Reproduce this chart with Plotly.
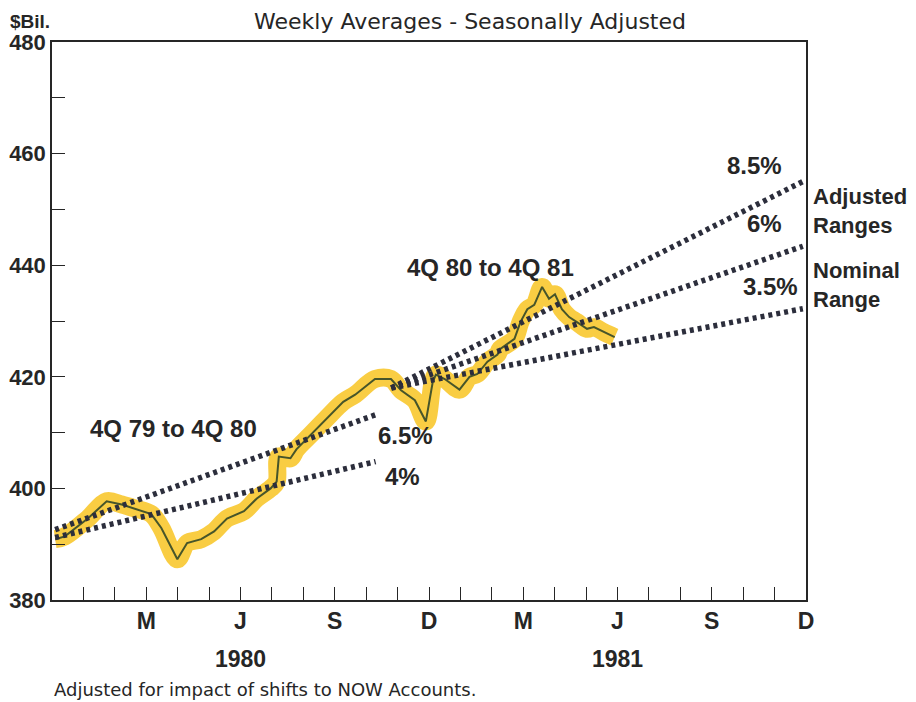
import plotly.graph_objects as go

# month index: 0 = Dec 1979, 12 = Dec 1980, 24 = Dec 1981
week_x = [0.1, 0.41, 1.14, 1.74, 2.22, 2.63, 3.16, 3.48, 3.99, 4.30, 4.75, 5.16, 5.57,
          6.11, 6.52, 6.96, 7.15, 7.22, 7.59, 7.78, 8.23, 8.73, 9.27, 9.65, 10.28, 10.79,
          11.11, 11.55, 11.90, 12.12, 12.22, 12.50, 12.97, 13.29, 13.54, 13.86, 14.18,
          14.27, 14.72, 14.91, 15.13, 15.35, 15.60, 15.82, 16.01, 16.23, 16.46, 16.71,
          17.03, 17.25, 17.56, 17.91]
week_m1 = [390.9, 391.4, 394.6, 397.7, 397.1, 396.4, 395.4, 392.9, 387.3, 390.2, 390.9,
           392.3, 394.6, 395.9, 398.2, 400.0, 401.2, 405.7, 405.4, 407.0, 409.6, 412.5,
           415.5, 416.8, 419.6, 419.6, 417.6, 415.8, 412.0, 419.1, 420.4, 419.6, 417.7,
           420.0, 420.5, 422.7, 424.0, 425.0, 426.8, 429.8, 432.1, 432.9, 436.1, 434.0,
           434.8, 432.1, 430.7, 429.8, 428.6, 428.9, 428.0, 427.1]

# target cones: (start x, end x) and (start value, end value)
cone80_x = [0.1, 10.3]
cone80_high = [392.6, 413.2]   # 6.5%
cone80_low = [391.2, 404.8]    # 4%
cone81_x = [10.8, 23.9]
cone81_85 = [418.0, 455.0]     # 8.5%
cone81_6 = [418.0, 443.4]      # 6%
cone81_35 = [418.0, 432.2]     # 3.5%

tick_months = [3, 6, 9, 12, 15, 18, 21, 24]
tick_labels = ['M', 'J', 'S', 'D', 'M', 'J', 'S', 'D']
y_ticks = list(range(380, 481, 10))
y_labels = [str(v) if v % 20 == 0 else '' for v in y_ticks]

FONT = 'Liberation Sans'
WIDE = 'DejaVu Sans'
INK = '#262626'
DOT = '#2c2e3c'

fig = go.Figure()

# yellow highlight band
fig.add_trace(go.Scatter(x=week_x, y=week_m1, mode='lines', line_shape='spline',
                         line=dict(color='rgba(247,192,20,0.8)', width=18),
                         hoverinfo='skip', showlegend=False))
fig.add_trace(go.Scatter(x=week_x, y=week_m1, mode='lines',
                         line=dict(color='#47552a', width=2), showlegend=False))

for ys, xs in [(cone80_high, cone80_x), (cone80_low, cone80_x),
               (cone81_85, cone81_x), (cone81_6, cone81_x), (cone81_35, cone81_x)]:
    fig.add_trace(go.Scatter(x=xs, y=ys, mode='lines',
                             line=dict(color=DOT, width=5.5, dash='4px,4px'),
                             showlegend=False))

def txt(x, y, s, size=24, xref='x', yref='y', xanchor='left', weight='bold',
        family=FONT, color=INK):
    fig.add_annotation(x=x, y=y, xref=xref, yref=yref, text=s, showarrow=False,
                       xanchor=xanchor, yanchor='middle', align='left',
                       font=dict(family=family, size=size, color=color, weight=weight))

txt(1.15, 410.8, '4Q 79 to 4Q 80')
txt(10.3, 409.5, '6.5%')
txt(10.55, 402.2, '4%')
txt(11.25, 439.6, '4Q 80 to 4Q 81')
txt(23.3, 457.8, '8.5%', xanchor='right')
txt(23.3, 447.4, '6%', xanchor='right')
txt(23.8, 436.2, '3.5%', xanchor='right')
txt(1.007, 449.8, 'Adjusted<br>Ranges', size=22, xref='paper')
txt(1.007, 436.4, 'Nominal<br>Range', size=22, xref='paper')
txt(6, -0.105, '1980', xref='x', yref='paper', xanchor='center', size=23)
txt(18, -0.105, '1981', xref='x', yref='paper', xanchor='center', size=23)

fig.add_annotation(x=-0.058, y=1.036, xref='paper', yref='paper', text='$Bil.', showarrow=False,
                   xanchor='left', yanchor='middle',
                   font=dict(family=FONT, size=19, color=INK, weight='bold'))
fig.add_annotation(x=0.554, y=1.036, xref='paper', yref='paper',
                   text='Weekly Averages - Seasonally Adjusted', showarrow=False,
                   xanchor='center', yanchor='middle',
                   font=dict(family=WIDE, size=22, color=INK))
fig.add_annotation(x=0, y=-0.16, xref='paper', yref='paper',
                   text='Adjusted for impact of shifts to NOW Accounts.', showarrow=False,
                   xanchor='left', yanchor='middle',
                   font=dict(family=WIDE, size=18, color=INK))

fig.update_xaxes(range=[0, 24], tickmode='array', tickvals=list(range(0, 25)),
                 ticktext=[tick_labels[tick_months.index(m)] if m in tick_months else '' for m in range(0, 25)],
                 ticks='inside', ticklen=13, tickwidth=1.3, tickcolor=INK,
                 showline=True, linecolor=INK, linewidth=1.5, mirror=True,
                 showgrid=False, zeroline=False, automargin=False,
                 tickfont=dict(family=FONT, size=23, color=INK, weight='bold'))
fig.update_yaxes(range=[380, 480], tickmode='array', tickvals=y_ticks, ticktext=y_labels,
                 ticks='inside', ticklen=13, tickwidth=1.3, tickcolor=INK,
                 showline=True, linecolor=INK, linewidth=1.5, mirror=True,
                 showgrid=False, zeroline=False, automargin=False,
                 tickfont=dict(family=FONT, size=22, color=INK, weight='bold'))

# page body adds an 8px offset, so the figure is sized to fit inside the window
fig.update_layout(width=908, height=694, plot_bgcolor='white', paper_bgcolor='white',
                  margin=dict(l=44, r=110, t=34, b=102), showlegend=False)

fig.write_html("out.html")
